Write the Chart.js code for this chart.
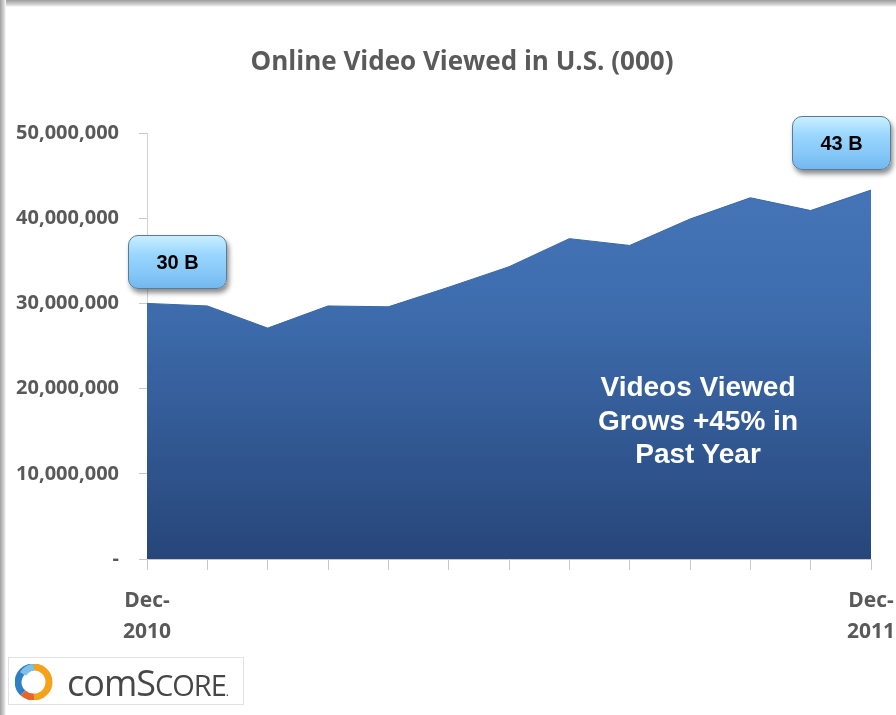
<!DOCTYPE html>
<html>
<head>
<meta charset="utf-8">
<script src="https://cdn.jsdelivr.net/npm/chart.js@4"></script>
<style>
  html,body{margin:0;padding:0;width:896px;height:715px;overflow:hidden;background:#fff;}
  #wrap{position:relative;width:896px;height:715px;}
  #frameTop{position:absolute;left:0;top:0;width:896px;height:7px;background:linear-gradient(#9c9c9c,#d8d8d8 70%,#fff);}
  #frameLeft{position:absolute;left:0;top:0;width:6px;height:715px;background:linear-gradient(90deg,#a0a0a0,#d8d8d8 70%,#fff);}
  canvas{position:absolute;left:0;top:0;}
  #title{position:absolute;left:0;top:42px;width:924px;text-align:center;font-family:"Open Sans",sans-serif;font-weight:bold;font-size:26px;color:#5a5a5a;}
  .callout{position:absolute;width:99px;height:54px;border-radius:10px;border:1.5px solid #5a7a95;
    background:linear-gradient(#c9efff 0%,#9ad6ff 35%,#86c8f8 70%,#73b8ee 100%);
    box-shadow:2px 4px 5px rgba(0,0,0,0.45);
    font-family:"Liberation Sans",Arial,sans-serif;font-weight:bold;font-size:20px;color:#000;
    display:flex;align-items:center;justify-content:center;box-sizing:border-box;}
  #note{position:absolute;left:558px;top:370px;width:280px;text-align:center;font-family:"Liberation Sans",Arial,sans-serif;font-weight:bold;font-size:28px;line-height:33.5px;color:#fff;}
  #logo{position:absolute;left:8px;top:657px;width:236px;height:48px;box-sizing:border-box;border:1px solid #e2e2e2;background:#fff;}
  #logo svg{position:absolute;left:6px;top:6px;}
  #logoText{position:absolute;left:58px;top:0px;font-family:"Open Sans",sans-serif;color:#474747;font-size:36px;letter-spacing:-1px;}
  #logoText .sc{font-size:29px;}
</style>
</head>
<body>
<div id="wrap">
  <canvas id="c" width="896" height="715"></canvas>
  <div id="frameTop"></div>
  <div id="frameLeft"></div>
  <div id="title">Online Video Viewed in U.S. (000)</div>
  <div class="callout" style="left:128px;top:235px;">30 B</div>
  <div class="callout" style="left:792px;top:116px;">43 B</div>
  <div id="note">Videos Viewed<br>Grows +45% in<br>Past Year</div>
  <div id="logo">
    <svg width="40" height="36" viewBox="0 0 40 36">
      <path d="M19 3 A15 15 0 0 0 8 29" fill="none" stroke="#2f7fc4" stroke-width="7"/>
      <path d="M8 29 A15 15 0 0 0 19 33" fill="none" stroke="#e8632a" stroke-width="7"/>
      <path d="M19 3 A15 15 0 0 1 19 33" fill="none" stroke="#f3a21c" stroke-width="7"/>
      <path d="M19 3 A15 15 0 0 0 8 10" fill="none" stroke="#7fc0ea" stroke-width="7"/>
      <rect x="17" y="8" width="5" height="20" fill="#fff"/>
    </svg>
    <div id="logoText">com<span>S</span><span class="sc">CORE</span><span style="font-size:12px">.</span></div>
  </div>
</div>
<script>
// ---- data ----
const months = ["Dec-2010","Jan-2011","Feb-2011","Mar-2011","Apr-2011","May-2011","Jun-2011","Jul-2011","Aug-2011","Sep-2011","Oct-2011","Nov-2011","Dec-2011"];
const videosViewed = [30000000, 29700000, 27100000, 29700000, 29600000, 31900000, 34300000, 37600000, 36800000, 39900000, 42400000, 40900000, 43300000];
const axisLabels = [["Dec-","2010"],["Dec-","2011"]];
const yTicks = [0, 10000000, 20000000, 30000000, 40000000, 50000000];

const ctx = document.getElementById('c').getContext('2d');
new Chart(ctx, {
  type: 'line',
  data: {
    labels: months,
    datasets: [{
      data: videosViewed,
      fill: 'origin',
      tension: 0,
      pointRadius: 0,
      borderWidth: 1,
      borderColor: '#3a67a6',
      backgroundColor: (c) => {
        const ch = c.chart; const a = ch.chartArea;
        if (!a) return '#3a67a6';
        const g = ch.ctx.createLinearGradient(0, a.top, 0, a.bottom);
        g.addColorStop(0, '#4879bc');
        g.addColorStop(0.4, '#3e6dae');
        g.addColorStop(1, '#27467a');
        return g;
      }
    }]
  },
  options: {
    responsive: false,
    animation: false,
    layout: { padding: { left: 0, right: 25, top: 133, bottom: 56 } },
    plugins: { legend: { display: false }, tooltip: { enabled: false }, title: { display: false } },
    scales: {
      x: {
        offset: false,
        grid: { drawOnChartArea: false, drawTicks: true, tickLength: 11, color: '#c8c8c8' },
        border: { display: true, color: '#c8c8c8' },
        ticks: {
          autoSkip: false, maxRotation: 0, padding: 15,
          color: '#595959',
          font: { family: 'Open Sans', weight: 'bold', size: 21, lineHeight: 1.5 },
          callback: (v, i) => i === 0 ? axisLabels[0] : (i === months.length - 1 ? axisLabels[1] : '')
        },
        afterFit: (s) => { s.height = 100; s.paddingLeft = 0; s.paddingRight = 0; }
      },
      y: {
        min: 0, max: 50000000,
        afterBuildTicks: (s) => { s.ticks = yTicks.map(v => ({ value: v })); },
        grid: { drawOnChartArea: false, drawTicks: true, tickLength: 8, color: '#c8c8c8' },
        border: { display: true, color: '#d4d4d4' },
        ticks: {
          padding: 20, color: '#595959',
          font: { family: 'Open Sans', weight: 'bold', size: 20 },
          callback: (v) => v === 0 ? '-' : v.toLocaleString('en-US')
        },
        afterFit: (s) => { s.width = 147; }
      }
    }
  }
});
</script>
</body>
</html>
